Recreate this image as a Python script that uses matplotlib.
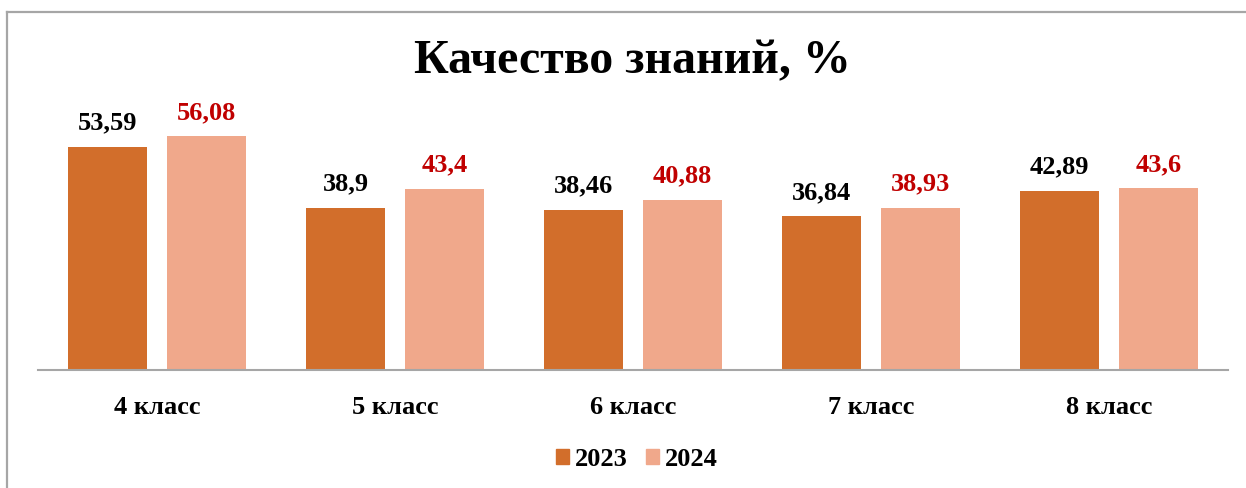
import matplotlib
matplotlib.use("Agg")
import matplotlib.pyplot as plt
from matplotlib.lines import Line2D
from matplotlib.patches import Patch
import numpy as np

categories = ["4 класс", "5 класс", "6 класс", "7 класс", "8 класс"]
values_2023 = [53.59, 38.9, 38.46, 36.84, 42.89]
values_2024 = [56.08, 43.4, 40.88, 38.93, 43.6]
labels_2023 = ["53,59", "38,9", "38,46", "36,84", "42,89"]
labels_2024 = ["56,08", "43,4", "40,88", "38,93", "43,6"]
series_names = ["2023", "2024"]

c2023 = "#D26E2B"
c2024 = "#F0A88B"
red = "#C00000"

plt.rcParams["font.family"] = "Liberation Serif"
plt.rcParams["font.weight"] = "bold"

fig = plt.figure(figsize=(12.46, 4.88), dpi=100)
ax = fig.add_axes([38/1246, 1-370/488, 1190/1246, 250/488])

x = np.arange(len(categories))
w = 0.332
off = 0.208
ax.bar(x - off, values_2023, w, color=c2023)
ax.bar(x + off, values_2024, w, color=c2024)

ax.set_xlim(-0.5, len(categories) - 0.5)
ax.set_ylim(0, 60)
for s in ["top", "right", "left"]:
    ax.spines[s].set_visible(False)
ax.spines["bottom"].set_color("#A6A6A6")
ax.spines["bottom"].set_linewidth(1.5)
ax.set_yticks([])
ax.set_xticks(x)
ax.set_xticklabels(categories, fontsize=19, fontweight="bold", family="Liberation Serif")
ax.tick_params(axis="x", length=0, pad=18.5)

for xi, v, t in zip(x, values_2023, labels_2023):
    ax.annotate(t, (xi - off, v), xytext=(0, 9), textcoords="offset points",
                ha="center", va="bottom", fontsize=19, fontweight="bold",
                family="Liberation Serif", color="black")
for xi, v, t in zip(x, values_2024, labels_2024):
    ax.annotate(t, (xi + off, v), xytext=(0, 9), textcoords="offset points",
                ha="center", va="bottom", fontsize=19, fontweight="bold",
                family="Liberation Serif", color=red)

fig.text(632/1246, 1-61/488, "Качество знаний, %", ha="center", va="center",
         fontsize=34.5, fontweight="bold", family="Liberation Serif")

handles = [Patch(color=c2023), Patch(color=c2024)]
fig.legend(handles, series_names, loc="center", bbox_to_anchor=(637/1246, 1-459/488),
           ncol=2, frameon=False,
           prop={"size": 19, "weight": "bold", "family": "Liberation Serif"},
           handlelength=0.49, handleheight=0.49, handletextpad=0.23, columnspacing=0.68)

fig.add_artist(Line2D([7/1246, 7/1246], [0, 1-11.5/488], transform=fig.transFigure,
                      color="#A6A6A6", linewidth=1.6))
fig.add_artist(Line2D([7/1246, 1], [1-11.5/488, 1-11.5/488], transform=fig.transFigure,
                      color="#A6A6A6", linewidth=1.6))

fig.savefig("out.png", dpi=100)
